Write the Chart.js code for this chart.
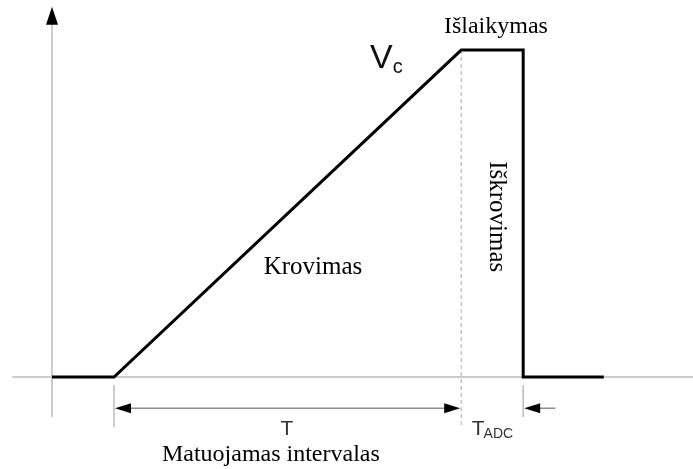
<!DOCTYPE html>
<html>
<head>
<meta charset="utf-8">
<script src="https://cdn.jsdelivr.net/npm/chart.js@4/dist/chart.umd.min.js"></script>
<style>
  html, body { margin: 0; padding: 0; background: #fff; }
  canvas { display: block; }
</style>
</head>
<body>
<canvas id="rampChart" width="693" height="469"></canvas>
<script>
// Integrating ADC ramp: charge (Krovimas), hold (Išlaikymas), discharge (Iškrovimas)

// waveform, time in arbitrary units, voltage normalised to Vc = 1
const waveT = [0, 1, 6.6, 7.6, 7.6, 8.9];
const waveV = [0, 0, 1, 1, 0, 0];

// measured interval T and conversion time T_ADC
const intervalT = [1, 6.6];
const adcT = [6.6, 7.6];

// axis extents
const axisT = [-0.64, 10.45];
const axisV = [-0.122, 1.12];

const serif = '"Liberation Serif", "Times New Roman", serif';
const sans = '"Liberation Sans", Arial, sans-serif';

function arrowHead(ctx, x, y, dir, len, half) {
    // dir: 'left' | 'right' | 'up'
    ctx.beginPath();
    if (dir === "left") {
        ctx.moveTo(x, y); ctx.lineTo(x + len, y - half); ctx.lineTo(x + len, y + half);
    } else if (dir === "right") {
        ctx.moveTo(x, y); ctx.lineTo(x - len, y - half); ctx.lineTo(x - len, y + half);
    } else {
        ctx.moveTo(x, y); ctx.lineTo(x - half, y + len); ctx.lineTo(x + half, y + len);
    }
    ctx.closePath();
    ctx.fill();
}

const diagramPlugin = {
    id: "diagram",
    beforeDatasetsDraw(chart) {
        const ctx = chart.ctx;
        const xs = chart.scales.x, ys = chart.scales.y;
        const px = t => xs.getPixelForValue(t);
        const py = v => ys.getPixelForValue(v);
        ctx.save();

        // axes
        ctx.strokeStyle = "#cccccc";
        ctx.lineWidth = 2;
        ctx.beginPath();
        ctx.moveTo(px(axisT[0]), py(0));
        ctx.lineTo(px(axisT[1]), py(0));
        ctx.moveTo(px(0), py(axisV[0]));
        ctx.lineTo(px(0), py(axisV[1]));
        ctx.stroke();
        ctx.fillStyle = "#000";
        arrowHead(ctx, px(0), py(axisV[1]) - 4, "up", 18, 6);
        arrowHead(ctx, px(axisT[1]) + 12, py(0), "right", 16, 7);

        // extension lines
        ctx.strokeStyle = "#bbbbbb";
        ctx.lineWidth = 1.5;
        ctx.beginPath();
        ctx.moveTo(px(intervalT[0]), py(-0.024));
        ctx.lineTo(px(intervalT[0]), py(-0.153));
        ctx.moveTo(px(adcT[1]), py(-0.024));
        ctx.lineTo(px(adcT[1]), py(-0.122));
        ctx.stroke();

        // dashed line at end of ramp
        ctx.strokeStyle = "#aaaaaa";
        ctx.lineWidth = 1;
        ctx.setLineDash([4, 3]);
        ctx.beginPath();
        ctx.moveTo(px(intervalT[1]), py(1));
        ctx.lineTo(px(intervalT[1]), py(-0.153));
        ctx.stroke();
        ctx.setLineDash([]);

        // dimension arrows
        const dy = py(-0.095);
        ctx.strokeStyle = "#555";
        ctx.lineWidth = 1;
        ctx.beginPath();
        ctx.moveTo(px(intervalT[0]) + 10, dy);
        ctx.lineTo(px(intervalT[1]) - 10, dy);
        ctx.moveTo(px(adcT[1]) + 10, dy);
        ctx.lineTo(px(adcT[1] + 0.52), dy);
        ctx.stroke();
        ctx.fillStyle = "#000";
        arrowHead(ctx, px(intervalT[0]) + 1, dy, "left", 16, 5);
        arrowHead(ctx, px(intervalT[1]) - 1, dy, "right", 16, 5);
        arrowHead(ctx, px(adcT[1]) + 1, dy, "left", 16, 5);
        ctx.restore();
    },
    afterDatasetsDraw(chart) {
        const ctx = chart.ctx;
        const xs = chart.scales.x, ys = chart.scales.y;
        const px = t => xs.getPixelForValue(t);
        const py = v => ys.getPixelForValue(v);
        ctx.save();
        ctx.fillStyle = "#000";
        ctx.textBaseline = "alphabetic";

        // serif labels
        ctx.font = "24px " + serif;
        ctx.textAlign = "center";
        ctx.fillText("Išlaikymas", px(7.16), py(1.052));
        ctx.font = "25px " + serif;
        ctx.fillText("Krovimas", px(4.21), py(0.315));
        ctx.font = "24px " + serif;
        ctx.fillText("Matuojamas intervalas", px(3.53), py(-0.257));

        // vertical label on the discharge edge
        ctx.save();
        ctx.translate(px(7.06), py(0.66));
        ctx.rotate(Math.PI / 2);
        ctx.textAlign = "left";
        ctx.font = "25px " + serif;
        ctx.fillText("Iškrovimas", 0, 0);
        ctx.restore();

        // Vc
        ctx.textAlign = "left";
        ctx.fillStyle = "#111";
        ctx.font = "34px " + sans;
        const vx = px(5.13), vy = py(0.945);
        ctx.fillText("V", vx, vy);
        const vw = ctx.measureText("V").width;
        ctx.font = "20px " + sans;
        ctx.fillText("c", vx + vw, vy + 5);

        // T and T_ADC
        ctx.fillStyle = "#333";
        ctx.font = "21px " + sans;
        ctx.textAlign = "center";
        ctx.fillText("T", px(3.79), py(-0.177));
        ctx.textAlign = "left";
        const tx = px(6.77), ty = py(-0.177);
        ctx.fillText("T", tx, ty);
        const tw = ctx.measureText("T").width;
        ctx.font = "14px " + sans;
        ctx.fillText("ADC", tx + tw - 1, ty + 3);
        ctx.restore();
    }
};

const ctx = document.getElementById("rampChart").getContext("2d");

const chart = new Chart(ctx, {
    type: "scatter",
    data: {
        datasets: [{
            label: "Vc",
            data: waveT.map((t, i) => ({ x: t, y: waveV[i] })),
            showLine: true,
            borderColor: "#000",
            borderWidth: 3,
            pointRadius: 0,
            clip: false
        }]
    },
    options: {
        responsive: false,
        animation: false,
        devicePixelRatio: 1,
        layout: { padding: 0, autoPadding: false },
        scales: {
            x: { type: "linear", min: -0.839, max: 10.339, display: false },
            y: { type: "linear", min: -0.281, max: 1.153, display: false }
        },
        plugins: {
            legend: { display: false },
            tooltip: { enabled: false }
        }
    },
    plugins: [diagramPlugin]
});
</script>
</body>
</html>
